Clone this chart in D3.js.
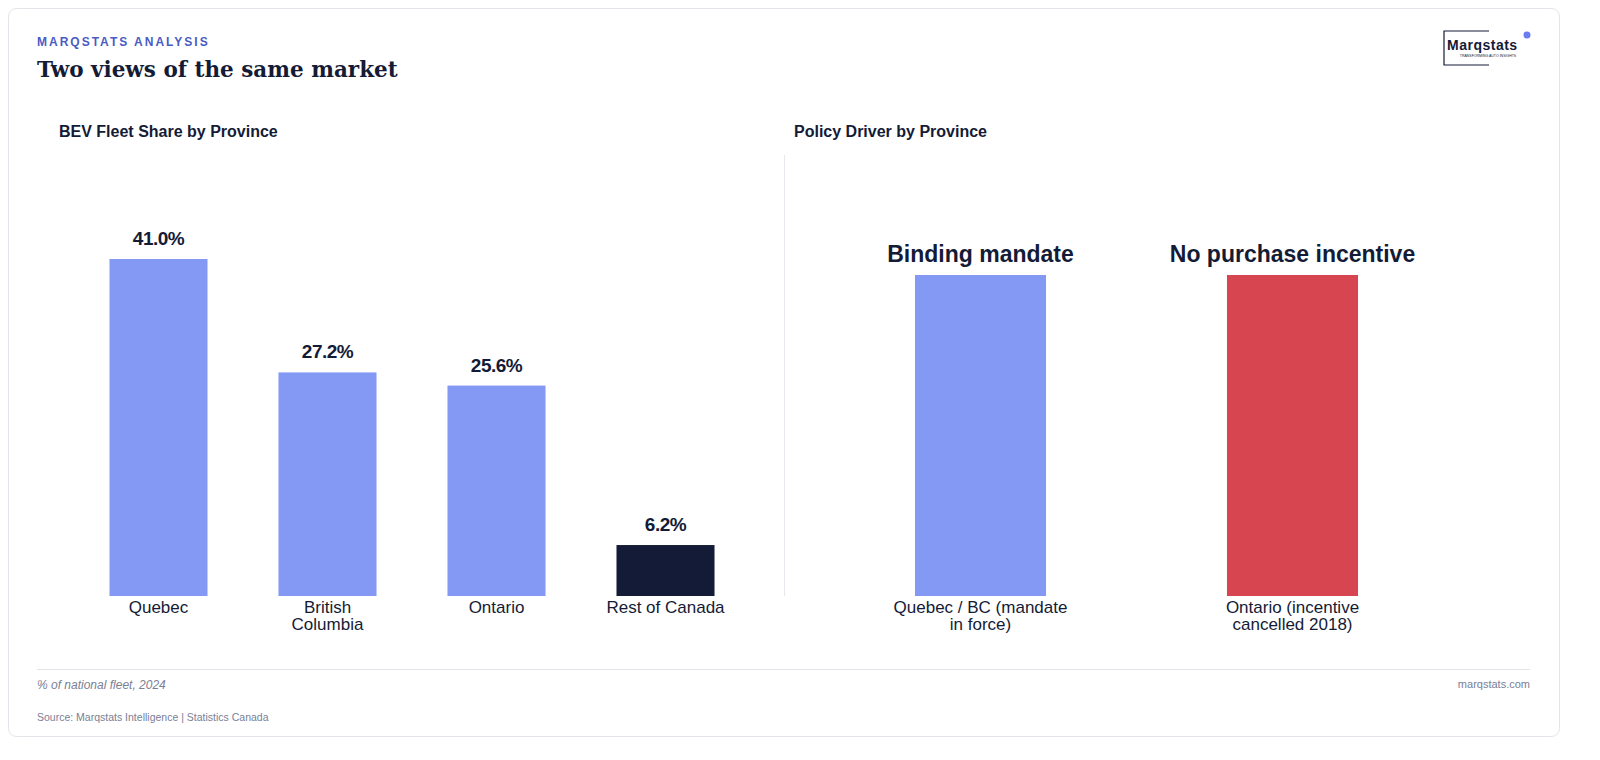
<!DOCTYPE html>
<html><head><meta charset="utf-8">
<script src="https://cdn.jsdelivr.net/npm/d3@7"></script>
<style>html,body{margin:0;overflow:hidden;background:#fff;font-family:"Liberation Sans",Arial,sans-serif}svg{display:block}</style>
</head><body><svg id="chart" width="1600" height="760"></svg>
<script>
// data
const provinces = ["Quebec", "British Columbia", "Ontario", "Rest of Canada"];
const fleetShare = [41.0, 27.2, 25.6, 6.2];
const policyGroups = ["Quebec / BC (mandate in force)", "Ontario (incentive cancelled 2018)"];
const policyLabels = ["Binding mandate", "No purchase incentive"];
const policyValues = [1, 1];

const svg = d3.select("svg#chart");
const ink = "#141b36";

svg.append("rect").attr("x", 8.5).attr("y", 8.5).attr("width", 1551).attr("height", 728)
    .attr("rx", 8).attr("fill", "white").attr("stroke", "#e2e4ea");

svg.append("text").text("MARQSTATS ANALYSIS").attr("x", 37).attr("y", 46)
    .attr("font-size", 12).attr("font-weight", "bold").attr("letter-spacing", 2).attr("fill", "#4a5bc4");
svg.append("text").text("Two views of the same market").attr("x", 37).attr("y", 77)
    .attr("font-family", "DejaVu Serif, serif").attr("font-size", 21.5).attr("font-weight", "bold").attr("fill", ink);

// logo
const logo = svg.append("g");
logo.append("path").attr("d", "M1489,31 H1444 V65 H1489").attr("fill", "none").attr("stroke", ink).attr("stroke-width", 1.2);
logo.append("text").text("Marqstats").attr("x", 1447).attr("y", 50).attr("font-size", 14).attr("font-weight", "bold").attr("letter-spacing", 0.5).attr("fill", ink);
logo.append("text").text("TRANSFORMING AUTO INSIGHTS").attr("x", 1488).attr("y", 57).attr("text-anchor", "middle").attr("font-size", 3.5).attr("fill", ink);
logo.append("circle").attr("cx", 1527).attr("cy", 35).attr("r", 3.5).attr("fill", "#6b7cf0");

// left chart
svg.append("text").text("BEV Fleet Share by Province").attr("x", 59).attr("y", 137)
    .attr("font-size", 16).attr("font-weight", "bold").attr("fill", ink);
const x1 = d3.scaleBand().domain(provinces).range([74, 750]).paddingInner(0.42).paddingOuter(0.21);
const y1 = d3.scaleLinear().domain([0, 41]).range([596, 259]);
svg.selectAll("rect.share").data(fleetShare).join("rect").attr("class", "share")
    .attr("x", (d, i) => x1(provinces[i])).attr("width", x1.bandwidth())
    .attr("y", d => y1(d)).attr("height", d => 596 - y1(d))
    .attr("fill", (d, i) => i === 3 ? ink : "#8399f4");
svg.selectAll("text.shareLab").data(fleetShare).join("text").attr("class", "shareLab")
    .text(d => d.toFixed(1) + "%")
    .attr("x", (d, i) => x1(provinces[i]) + x1.bandwidth() / 2).attr("y", d => y1(d) - 14)
    .attr("text-anchor", "middle").attr("font-size", 19).attr("font-weight", "bold").attr("letter-spacing", -0.5).attr("fill", ink);

function wrapLabels(sel, lines) {
    sel.each(function (d, i) {
        const t = d3.select(this);
        lines[i].forEach((l, j) => t.append("tspan").attr("x", t.attr("x")).attr("dy", j ? 17 : 0).text(l));
    });
}
const leftLines = [["Quebec"], ["British", "Columbia"], ["Ontario"], ["Rest of Canada"]];
svg.selectAll("text.prov").data(provinces).join("text").attr("class", "prov")
    .attr("x", d => x1(d) + x1.bandwidth() / 2).attr("y", 613)
    .attr("text-anchor", "middle").attr("font-size", 17).attr("fill", ink)
    .call(wrapLabels, leftLines);

svg.append("line").attr("x1", 784.5).attr("x2", 784.5).attr("y1", 155).attr("y2", 596).attr("stroke", "#e6e8ee");

// right chart
svg.append("text").text("Policy Driver by Province").attr("x", 794).attr("y", 137)
    .attr("font-size", 16).attr("font-weight", "bold").attr("fill", ink);
const x2 = d3.scaleBand().domain(policyGroups).range([824.5, 1448.5]).paddingInner(0.58).paddingOuter(0.29);
const y2 = d3.scaleLinear().domain([0, 1]).range([596, 275]);
svg.selectAll("rect.policy").data(policyValues).join("rect").attr("class", "policy")
    .attr("x", (d, i) => x2(policyGroups[i])).attr("width", x2.bandwidth())
    .attr("y", d => y2(d)).attr("height", d => 596 - y2(d))
    .attr("fill", (d, i) => i ? "#d74550" : "#8399f4");
svg.selectAll("text.policyLab").data(policyLabels).join("text").attr("class", "policyLab")
    .text(d => d)
    .attr("x", (d, i) => x2(policyGroups[i]) + x2.bandwidth() / 2).attr("y", (d, i) => y2(policyValues[i]) - 13)
    .attr("text-anchor", "middle").attr("font-size", 23).attr("font-weight", "bold").attr("fill", ink);
const rightLines = [["Quebec / BC (mandate", "in force)"], ["Ontario (incentive", "cancelled 2018)"]];
svg.selectAll("text.grp").data(policyGroups).join("text").attr("class", "grp")
    .attr("x", d => x2(d) + x2.bandwidth() / 2).attr("y", 613)
    .attr("text-anchor", "middle").attr("font-size", 17).attr("fill", ink)
    .call(wrapLabels, rightLines);

// footer
svg.append("line").attr("x1", 37).attr("x2", 1530).attr("y1", 669.5).attr("y2", 669.5).attr("stroke", "#e2e4ea");
svg.append("text").text("% of national fleet, 2024").attr("x", 37).attr("y", 689)
    .attr("font-size", 12).attr("font-style", "italic").attr("fill", "#7a8096");
svg.append("text").text("marqstats.com").attr("x", 1530).attr("y", 688).attr("text-anchor", "end")
    .attr("font-size", 11).attr("fill", "#7a8096");
svg.append("text").text("Source: Marqstats Intelligence | Statistics Canada").attr("x", 37).attr("y", 721)
    .attr("font-size", 10.5).attr("fill", "#7a8096");
</script></body></html>
